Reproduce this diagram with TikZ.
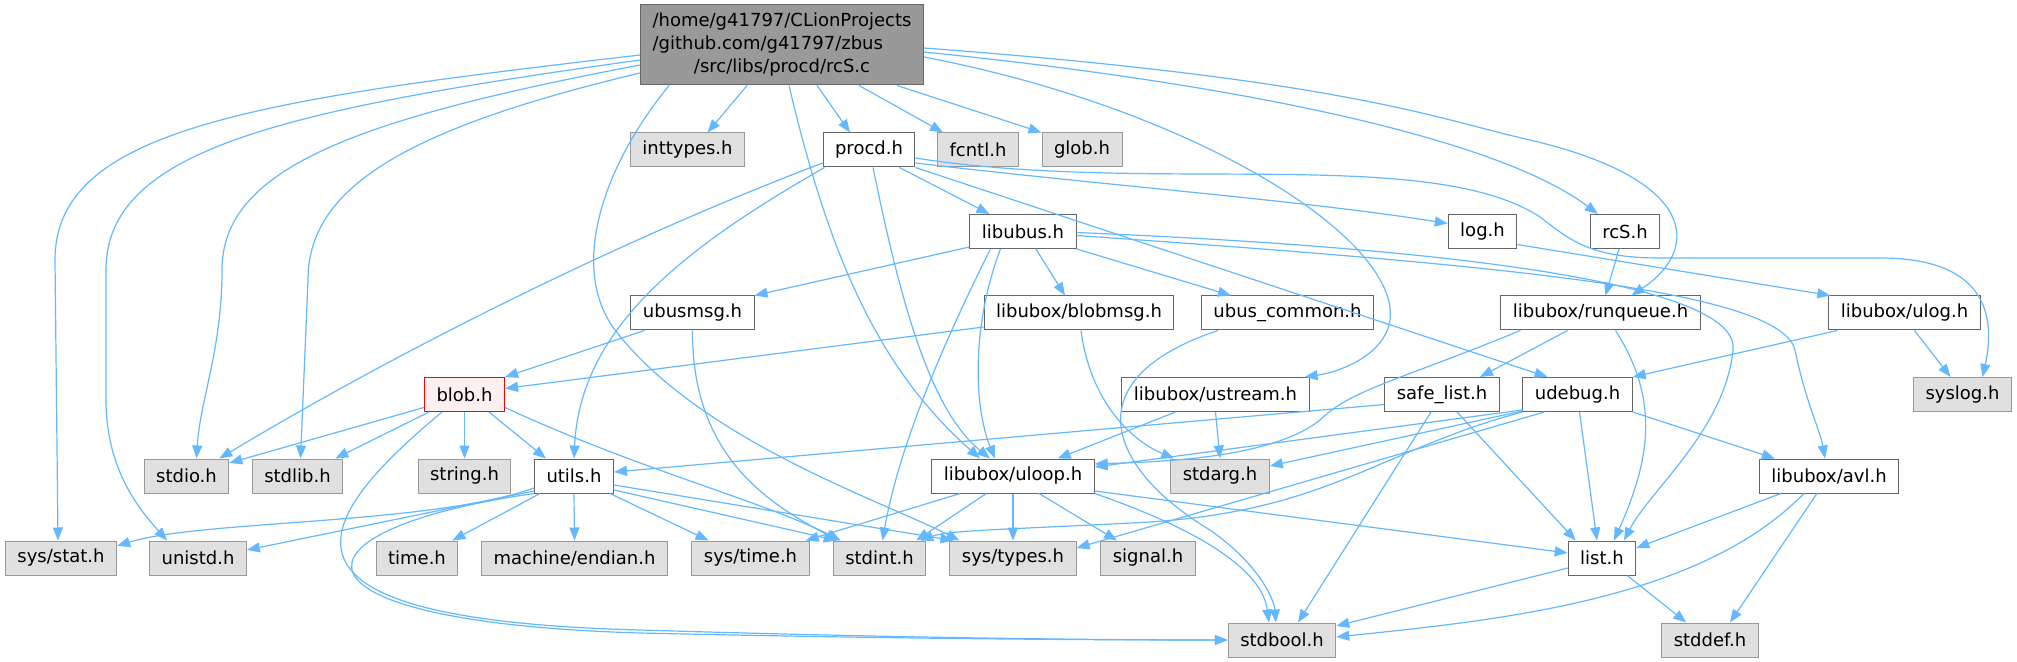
\documentclass[tikz,border=0pt]{standalone}
\usepackage{fontspec}
\setmainfont{DejaVu Sans}
\usetikzlibrary{arrows.meta,calc}
\definecolor{edgec}{HTML}{63B8FF}
\definecolor{mainfill}{HTML}{999999}
\definecolor{gfill}{HTML}{E0E0E0}
\definecolor{gdraw}{HTML}{999999}
\definecolor{wdraw}{HTML}{666666}
\definecolor{bfill}{HTML}{FFF0F0}
\begin{document}
\begin{tikzpicture}[x=0.5pt,y=-0.5pt,
  base/.style={rectangle, font=\fontsize{9}{11.5}\selectfont, inner xsep=6pt, inner ysep=0pt, minimum height=17pt, line width=0.5pt},
  sysbox/.style={base, fill=gfill, draw=gdraw},
  locbox/.style={base, fill=white, draw=wdraw},
  conn/.style={draw=edgec, line width=0.6pt, -{Triangle[length=6.5pt,width=5pt]}}]
\useasboundingbox (0,0) rectangle (2017,662);
% row 0
\node[base, fill=mainfill, draw=wdraw, minimum height=40pt] (main) at (782,45) {\begin{tabular}{@{}l@{}}/home/g41797/CLionProjects\\/github.com/g41797/zbus\\\multicolumn{1}{@{}c@{}}{/src/libs/procd/rcS.c}\end{tabular}};
% row 1
\node[sysbox] (inttypes) at (687.5,150) {inttypes.h};
\node[locbox] (procd) at (869,150) {procd.h};
\node[sysbox] (fcntl) at (978,150) {fcntl.h};
\node[sysbox] (glob) at (1082,150) {glob.h};
% row 2
\node[locbox] (libubus) at (1023,231.5) {libubus.h};
\node[locbox] (log) at (1482.5,231.5) {log.h};
\node[locbox] (rcSh) at (1625,231.5) {rcS.h};
% row 3
\node[locbox] (ubusmsg) at (692.5,313) {ubusmsg.h};
\node[locbox] (blobmsg) at (1079,313) {libubox/blobmsg.h};
\node[locbox] (ubuscommon) at (1287.5,313) {ubus\_common.h};
\node[locbox] (runqueue) at (1600.5,313) {libubox/runqueue.h};
\node[locbox] (ulog) at (1904.5,313) {libubox/ulog.h};
% row 4
\node[base, fill=bfill, draw=red] (blob) at (464.5,394.5) {blob.h};
\node[locbox] (ustream) at (1215.5,394.5) {libubox/ustream.h};
\node[locbox] (safelist) at (1442,394.5) {safe\_list.h};
\node[locbox] (udebug) at (1577.5,394.5) {udebug.h};
\node[sysbox] (syslog) at (1962.5,394.5) {syslog.h};
% row 5
\node[sysbox] (stdio) at (186.5,476) {stdio.h};
\node[sysbox] (stdlib) at (297.5,476) {stdlib.h};
\node[sysbox] (string) at (464.5,476) {string.h};
\node[locbox] (utils) at (574,476) {utils.h};
\node[locbox] (uloop) at (1013,476) {libubox/uloop.h};
\node[sysbox] (stdarg) at (1220,476) {stdarg.h};
\node[locbox] (avl) at (1829,476) {libubox/avl.h};
% row 6
\node[sysbox] (sysstat) at (61,558) {sys/stat.h};
\node[sysbox] (unistd) at (198,558) {unistd.h};
\node[sysbox] (time) at (417,558) {time.h};
\node[sysbox] (endian) at (574.5,558) {machine/endian.h};
\node[sysbox] (systime) at (750.5,558) {sys/time.h};
\node[sysbox] (stdint) at (879.5,558) {stdint.h};
\node[sysbox] (systypes) at (1013,558) {sys/types.h};
\node[sysbox] (signal) at (1148,558) {signal.h};
\node[locbox] (list) at (1602,558) {list.h};
% row 7
\node[sysbox] (stdbool) at (1282,640) {stdbool.h};
\node[sysbox] (stddef) at (1710,640) {stddef.h};

% main
\draw[conn] ($(main.west)+(0,10)$) .. controls (250,100) and (55,130) .. (55,260) -- ($(sysstat.north)+(-3,0)$);
\draw[conn] ($(main.west)+(0,15)$) .. controls (280,110) and (106,150) .. (106,270) -- (106,400) .. controls (106,470) and (140,510) .. ($(unistd.north)+(-31,0)$);
\draw[conn] ($(main.west)+(0,20)$) .. controls (350,120) and (222,170) .. (222,270) .. controls (222,350) and (200,400) .. ($(stdio.north)+(10,0)$);
\draw[conn] ($(main.west)+(0,28)$) .. controls (400,130) and (308,190) .. (308,280) -- ($(stdlib.north)+(3,0)$);
\draw[conn] ($(main.south west)+(29,0)$) .. controls (600,170) and (570,270) .. (615,330) .. controls (700,440) and (880,500) .. ($(systypes.north west)+(10,0)$);
\draw[conn] ($(main.south west)+(107,0)$) -- ($(inttypes.north)+(20,0)$);
\draw[conn] ($(main.south west)+(177,0)$) -- ($(procd.north)+(-19,0)$);
\draw[conn] ($(main.south west)+(219,0)$) -- ($(fcntl.north west)+(6,0)$);
\draw[conn] ($(main.south east)+(-27,0)$) -- (glob.north west);
\draw[conn] ($(main.south)+(7,0)$) .. controls (830,260) and (880,370) .. ($(uloop.north)+(-33,0)$);
\draw[conn] ($(main.east)+(0,12)$) .. controls (1200,110) and (1400,240) .. (1390,320) .. controls (1385,355) and (1340,372) .. ($(ustream.north east)+(-5,0)$);
\draw[conn] ($(main.east)+(0,7)$) .. controls (1250,85) and (1500,140) .. ($(rcSh.north west)+(8,0)$);
\draw[conn] ($(main.east)+(0,3)$) .. controls (1350,80) and (1440,120) .. (1530,140) .. controls (1700,180) and (1700,250) .. ($(runqueue.north)+(31,0)$);
% procd
\draw[conn] ($(procd.west)+(0,13)$) .. controls (620,240) and (400,350) .. ($(stdio.north east)+(-10,0)$);
\draw[conn] ($(procd.south west)+(2,0)$) .. controls (680,250) and (580,330) .. (utils.north);
\draw[conn] ($(procd.south)+(4,0)$) .. controls (900,300) and (930,410) .. ($(uloop.north)+(-23,0)$);
\draw[conn] ($(procd.south east)+(-16,0)$) -- ($(libubus.north west)+(20,0)$);
\draw[conn] ($(procd.east)+(0,13)$) .. controls (1100,185) and (1300,200) .. ($(log.west)+(0,-8)$);
\draw[conn] ($(procd.east)+(0,8)$) .. controls (1150,195) and (1430,145) .. (1540,217) .. controls (1570,240) and (1590,258) .. (1660,258) -- (1880,258) .. controls (1990,258) and (1995,320) .. ($(syslog.north)+(20,0)$);
\draw[conn] (procd.south east) -- ($(udebug.north)+(-30,0)$);
% libubus
\draw[conn] ($(libubus.south west)+(0,-2)$) -- (ubusmsg.north east);
\draw[conn] ($(libubus.south)+(13,0)$) -- ($(blobmsg.north)+(-14,0)$);
\draw[conn] (libubus.south east) -- ($(ubuscommon.north west)+(30,0)$);
\draw[conn] ($(libubus.south west)+(31,0)$) .. controls (970,330) and (975,410) .. ($(uloop.north)+(-18,0)$);
\draw[conn] ($(libubus.south west)+(21,0)$) .. controls (950,330) and (900,440) .. ($(stdint.north)+(3,0)$);
\draw[conn] ($(libubus.east)+(0,1)$) .. controls (1500,250) and (1740,290) .. (1733,350) .. controls (1725,430) and (1650,490) .. ($(list.north)+(22,0)$);
\draw[conn] ($(libubus.east)+(0,4)$) .. controls (1500,265) and (1780,290) .. (1795,350) .. controls (1805,400) and (1820,430) .. ($(avl.north)+(-4,0)$);
% log, rcS
\draw[conn] ($(log.east)+(0,13)$) -- ($(ulog.north west)+(2,0)$);
\draw[conn] ($(rcSh.south)+(-6,0)$) -- ($(runqueue.north)+(5,0)$);
% ubusmsg
\draw[conn] ($(ubusmsg.south west)+(14,0)$) -- (blob.north east);
\draw[conn] (ubusmsg.south) .. controls (692,450) and (760,500) .. ($(stdint.north west)+(6,0)$);
% blobmsg
\draw[conn] ($(blobmsg.west)+(0,14)$) -- ($(blob.east)+(0,-6)$);
\draw[conn] ($(blobmsg.south)+(2,0)$) .. controls (1090,400) and (1130,440) .. ($(stdarg.north west)+(4,0)$);
% ubus_common
\draw[conn] ($(ubuscommon.south west)+(17,0)$) .. controls (1070,380) and (1110,470) .. (1210,530) .. controls (1260,565) and (1274,600) .. ($(stdbool.north)+(-6,0)$);
% runqueue
\draw[conn] ($(runqueue.south)+(-33,0)$) -- ($(safelist.north)+(38,0)$);
\draw[conn] ($(runqueue.south west)+(20,0)$) .. controls (1400,380) and (1350,390) .. (1320,420) .. controls (1270,460) and (1150,462) .. ($(uloop.east)+(0,-12)$);
\draw[conn] ($(runqueue.south)+(15,0)$) .. controls (1660,400) and (1650,460) .. ($(list.north)+(12,0)$);
% ulog
\draw[conn] ($(ulog.south west)+(9,0)$) -- (udebug.north east);
\draw[conn] ($(ulog.south)+(10,0)$) -- ($(syslog.north)+(-12,0)$);
% blob
\draw[conn] ($(blob.west)+(0,13)$) -- ($(stdio.east)+(0,-13)$);
\draw[conn] ($(blob.south west)+(5,0)$) -- ($(stdlib.north east)+(-8,0)$);
\draw[conn] (blob.south) -- (string.north);
\draw[conn] ($(blob.south east)+(-16,0)$) -- ($(utils.north west)+(12,0)$);
\draw[conn] ($(blob.east)+(0,13)$) .. controls (640,470) and (760,500) .. ($(stdint.north west)+(8,0)$);
\draw[conn] ($(blob.south west)+(18,0)$) .. controls (300,530) and (260,620) .. (640,630) .. controls (900,638) and (1100,640) .. (stdbool.west);
% utils
\draw[conn] ($(utils.west)+(0,12)$) .. controls (430,525) and (200,520) .. ($(sysstat.east)+(0,-12)$);
\draw[conn] ($(utils.west)+(0,15)$) -- ($(unistd.east)+(0,-8)$);
\draw[conn] (utils.south west) .. controls (280,530) and (270,622) .. (640,633) .. controls (900,639) and (1100,640) .. (stdbool.west);
\draw[conn] ($(utils.south west)+(6,0)$) -- ($(time.north east)+(-6,0)$);
\draw[conn] (utils.south) -- (endian.north);
\draw[conn] ($(utils.south east)+(-4,0)$) -- ($(systime.north)+(-42,0)$);
\draw[conn] ($(utils.east)+(0,14)$) -- ($(stdint.north west)+(4,0)$);
\draw[conn] ($(utils.east)+(0,9)$) -- ($(systypes.north west)+(4,0)$);
% uloop
\draw[conn] ($(uloop.south west)+(29,0)$) -- ($(systime.north east)+(-4,0)$);
\draw[conn] ($(uloop.south west)+(55,0)$) -- ($(stdint.north east)+(-10,0)$);
\draw[conn] (uloop.south) -- (systypes.north);
\draw[conn] ($(uloop.south)+(26,0)$) -- ($(signal.north)+(-31,0)$);
\draw[conn] ($(uloop.east)+(0,15)$) -- ($(list.west)+(0,-5)$);
\draw[conn] (uloop.south east) .. controls (1200,530) and (1262,570) .. ($(stdbool.north)+(-13,0)$);
% safe_list
\draw[conn] ($(safelist.west)+(0,10)$) -- ($(utils.east)+(0,-4)$);
\draw[conn] ($(safelist.south)+(15,0)$) -- ($(list.north west)+(8,0)$);
\draw[conn] ($(safelist.south)+(-11,0)$) -- ($(stdbool.north)+(16,0)$);
% udebug
\draw[conn] ($(udebug.south west)+(0,-2)$) -- ($(uloop.east)+(0,-9)$);
\draw[conn] ($(udebug.south west)+(0,-1)$) -- ($(stdarg.east)+(0,-10)$);
\draw[conn] (udebug.south west) .. controls (1380,450) and (1330,510) .. (1150,522) .. controls (1000,530) and (950,530) .. ($(stdint.north east)+(-6,0)$);
\draw[conn] ($(udebug.south west)+(22,0)$) -- ($(systypes.east)+(0,-10)$);
\draw[conn] ($(udebug.south)+(2,0)$) -- ($(list.north)+(-5,0)$);
\draw[conn] (udebug.south east) -- ($(avl.north west)+(16,0)$);
% ustream
\draw[conn] ($(ustream.south west)+(54,0)$) -- ($(uloop.north east)+(-37,0)$);
\draw[conn] (ustream.south) -- (stdarg.north);
% avl
\draw[conn] ($(avl.south west)+(22,0)$) -- ($(list.east)+(0,-10)$);
\draw[conn] ($(avl.south west)+(45,0)$) .. controls (1700,600) and (1500,620) .. ($(stdbool.east)+(0,-3)$);
\draw[conn] ($(avl.south west)+(58,0)$) -- ($(stddef.north)+(20,0)$);
% list
\draw[conn] ($(list.west)+(0,10)$) -- ($(stdbool.east)+(0,-14)$);
\draw[conn] ($(list.south east)+(-9,0)$) -- ($(stddef.north west)+(25,0)$);
\end{tikzpicture}
\end{document}
